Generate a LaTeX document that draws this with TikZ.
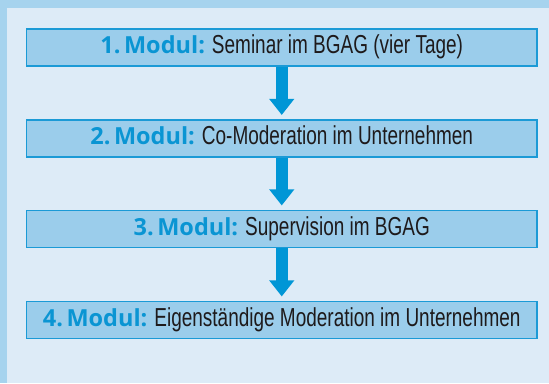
\documentclass[tikz,border=0pt]{standalone}
\usepackage{fontspec}
\setmainfont{Liberation Sans}
\newfontfamily\condfont{Liberation Sans}[FakeStretch=0.73]
\newfontfamily\modfont{Open Sans}
\definecolor{outerband}{HTML}{A6D3EE}
\definecolor{innerbg}{HTML}{DDEBF7}
\definecolor{boxfill}{HTML}{9BCDEB}
\definecolor{boxline}{HTML}{1B9AD6}
\definecolor{modblue}{HTML}{0A95D3}
\definecolor{arrowcol}{HTML}{0096D6}
\definecolor{txt}{HTML}{1E1A1B}
\usetikzlibrary{arrows.meta}
\tikzset{
  modbox/.style={draw=boxline, fill=boxfill, line width=1.1pt,
    minimum width=510.5pt, minimum height=37pt, inner xsep=0pt, inner ysep=0pt,
    text height=17pt, text depth=5pt, text=txt},
  flowarrow/.style={draw=arrowcol, line width=12.5pt,
    -{Triangle[width=24pt,length=16pt]}, shorten >=4.5pt}
}
\newcommand{\modlab}[1]{{\fontsize{23.5}{27}\selectfont\modfont\bfseries\color{modblue}#1.\hspace{3.5pt}Modul:}\hspace{7pt}}
\newcommand{\plaintx}[1]{{\fontsize{26}{30}\selectfont\condfont #1}}
\begin{document}
\begin{tikzpicture}[x=1pt,y=-1pt]
\fill[outerband] (0,0) rectangle (549,383);
\fill[innerbg] (7,8) rectangle (549,383);
\useasboundingbox (0,0) rectangle (549,383);
\node[modbox] (m1) at (281.75,47.5) {\modlab{1}\plaintx{Seminar im BGAG (vier Tage)}};
\node[modbox] (m2) at (281.75,138.5) {\modlab{2}\plaintx{Co-Moderation im Unternehmen}};
\node[modbox] (m3) at (281.75,229) {\modlab{3}\plaintx{Supervision im BGAG}};
\node[modbox] (m4) at (281.75,320) {\modlab{4}\plaintx{Eigenständige Moderation im Unternehmen}};
\draw[flowarrow] (m1.south) -- (m2.north);
\draw[flowarrow] (m2.south) -- (m3.north);
\draw[flowarrow] (m3.south) -- (m4.north);
\end{tikzpicture}
\end{document}
